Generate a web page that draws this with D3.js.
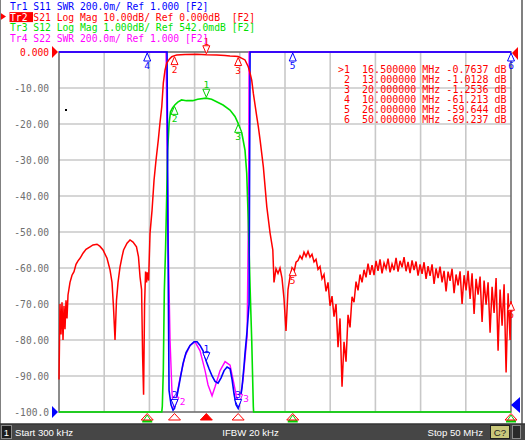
<!DOCTYPE html>
<html><head><meta charset="utf-8">
<script src="https://cdn.jsdelivr.net/npm/d3@7/dist/d3.min.js"></script>
<style>
html,body{margin:0;padding:0;background:#fff;}
svg{display:block;}
text{white-space:pre;}
</style></head><body>
<svg id="c" width="525" height="440"></svg>
<script>
// ---------- data ----------
const startMHz = 0.3, stopMHz = 50;
const yTicks = [0,-10,-20,-30,-40,-50,-60,-70,-80,-90,-100];
const yTickLabels = ["0.000","-10.00","-20.00","-30.00","-40.00","-50.00","-60.00","-70.00","-80.00","-90.00","-100.0"];
const headerLines = [
  {tr:"Tr1", rest:" S11 SWR 200.0m/ Ref 1.000 [F2]", color:"#0000ff"},
  {tr:"Tr2", rest:" S21 Log Mag 10.00dB/ Ref 0.000dB  [F2]", color:"#ff0000", active:true},
  {tr:"Tr3", rest:" S12 Log Mag 1.000dB/ Ref 542.0mdB [F2]", color:"#00e000"},
  {tr:"Tr4", rest:" S22 SWR 200.0m/ Ref 1.000 [F2]", color:"#ff00ff"}
];
const markerIds   = [1, 2, 3, 4, 5, 6];
const markerFreqs = [16.5, 13.0, 20.0, 10.0, 26.0, 50.0];
const markerVals  = [-0.7637, -1.0128, -1.2536, -61.213, -59.644, -69.237];
const footerStart = "Start 300 kHz", footerIfbw = "IFBW 20 kHz", footerStop = "Stop 50 MHz";

// Tr2 S21 log mag (MHz, dB)
const s21 = [
[0.30,-91.0],[0.41,-70.0],[0.52,-78.5],[0.63,-69.5],[0.74,-80.0],[0.85,-70.5],[0.96,-77.0],[1.07,-69.0],[1.18,-74.0],[1.29,-67.5],
[1.51,-64.0],[1.73,-62.0],[1.95,-61.0],[2.17,-59.0],[2.39,-58.0],[2.61,-57.3],[2.94,-55.9],[3.27,-54.8],[3.71,-54.1],[4.04,-53.6],
[4.48,-53.4],[4.81,-54.0],[5.14,-55.0],[5.58,-57.3],[5.91,-60.5],[6.13,-64.0],[6.29,-70.8],[6.46,-80.0],[6.62,-69.0],[6.79,-64.0],
[7.01,-59.7],[7.23,-56.9],[7.40,-55.0],[7.78,-53.1],[8.11,-52.2],[8.44,-52.8],[8.82,-54.1],[9.04,-56.9],[9.21,-62.5],[9.38,-66.0],
[9.49,-84.0],[9.60,-95.2],[9.71,-70.0],[9.82,-61.0],[9.93,-64.0],[10.00,-61.2],[10.15,-63.5],[10.31,-50.3],[10.53,-44.0],[10.75,-35.6],
[10.97,-30.0],[11.22,-24.4],[11.41,-19.5],[11.60,-15.2],[11.77,-8.6],[11.96,-5.0],[12.15,-3.1],[12.43,-2.0],[12.70,-1.3],[13.00,-1.01],
[13.24,-0.83],[14.16,-0.70],[15.44,-0.62],[16.50,-0.76],[17.64,-0.83],[18.55,-0.95],[19.10,-1.10],[19.65,-1.20],[20.00,-1.25],[20.20,-1.5],
[20.53,-1.9],[20.75,-2.2],[21.11,-4.1],[21.31,-5.9],[21.49,-7.8],[21.67,-11.5],[22.05,-18.0],[22.22,-20.8],[22.41,-24.4],[22.77,-31.9],
[23.15,-43.0],[23.51,-50.3],[23.81,-55.0],
[23.94,-64.0],[24.16,-60.2],[24.38,-61.5],[24.60,-60.0],[24.82,-62.8],[25.04,-68.5],[25.26,-77.5],[25.48,-66.0],[25.70,-62.5],[25.92,-60.0],
[26.14,-61.2],[26.36,-58.4],[26.58,-57.9],[26.80,-56.6],[27.02,-57.5],[27.24,-55.6],[27.46,-56.8],[27.68,-55.4],[27.90,-57.0],[28.12,-56.2],
[28.34,-58.3],[28.56,-57.6],[28.78,-60.4],[29.00,-59.6],[29.22,-63.0],[29.44,-61.8],[29.66,-66.5],[29.88,-64.0],[30.10,-70.5],[30.32,-67.8],
[30.54,-73.5],[30.76,-70.0],[30.98,-82.0],[31.20,-74.0],[31.42,-93.0],[31.64,-80.5],[31.86,-86.0],[32.08,-73.0],[32.30,-76.5],[32.52,-68.0],
[32.74,-69.5],[32.96,-63.8],[33.18,-66.2],[33.40,-61.8],[33.62,-64.0],[33.84,-60.5],[34.06,-62.6],[34.28,-58.8],[34.50,-61.9],[34.72,-59.2],
[34.94,-62.0],[35.16,-58.0],[35.38,-60.8],[35.60,-57.6],[35.82,-61.5],[36.04,-58.6],[36.26,-60.2],[36.48,-57.4],[36.70,-61.2],[36.92,-58.9],
[37.14,-60.6],[37.36,-57.2],[37.58,-61.0],[37.80,-58.0],[38.02,-59.8],[38.24,-57.0],[38.46,-60.9],[38.68,-58.3],[38.90,-61.4],[39.12,-57.9],
[39.34,-60.6],[39.56,-58.2],[39.78,-62.1],[40.00,-59.0],[40.22,-61.6],[40.44,-58.4],[40.66,-63.0],[40.88,-59.5],[41.10,-62.2],[41.32,-59.0],
[41.54,-64.4],[41.76,-60.1],[41.98,-62.8],[42.20,-59.6],[42.42,-64.0],[42.64,-60.8],[42.86,-66.5],[43.08,-61.0],[43.30,-63.6],[43.52,-60.2],
[43.74,-67.0],[43.96,-61.8],[44.18,-64.8],[44.40,-60.9],[44.62,-70.0],[44.84,-62.0],[45.06,-66.2],[45.28,-60.8],[45.50,-68.6],[45.72,-61.5],
[45.94,-72.8],[46.16,-63.0],[46.38,-67.4],[46.60,-62.4],[46.82,-75.0],[47.04,-63.5],[47.26,-70.2],[47.48,-64.0],[47.70,-78.0],[47.92,-65.2],
[48.14,-72.5],[48.36,-62.8],[48.58,-83.0],[48.80,-66.0],[49.02,-76.0],[49.24,-64.5],[49.46,-89.0],[49.68,-67.0],[49.90,-80.0],[50.00,-69.2]
];
// Tr1 S11 SWR
const s11 = [
[0.30,3.5],[11.96,3.5],[12.18,3.2],[12.29,1.9],[12.40,1.12],[12.62,1.04],[12.84,1.01],[13.00,1.02],[13.17,1.06],[13.39,1.12],
[13.61,1.18],[13.94,1.27],[14.27,1.33],[14.71,1.37],[15.15,1.39],[15.48,1.39],[15.81,1.37],[16.14,1.34],[16.50,1.28],[16.80,1.24],
[17.13,1.20],[17.46,1.17],[17.79,1.16],[18.12,1.19],[18.45,1.23],[18.78,1.25],[19.11,1.24],[19.33,1.18],[19.55,1.10],[19.77,1.04],
[20.00,1.02],[20.21,1.06],[20.43,1.14],[20.65,1.26],[20.76,1.33],[20.98,1.45],[21.20,1.60],[21.31,3.5],[50.00,3.5]
];
// Tr4 S22 SWR
const s22 = [
[0.30,3.5],[11.96,3.5],[12.07,3.2],[12.29,2.0],[12.51,1.4],[12.73,1.1],[12.95,1.02],[13.28,1.10],[13.61,1.19],[14.16,1.31],
[14.71,1.37],[15.26,1.39],[15.81,1.34],[16.36,1.23],[16.69,1.15],[17.13,1.09],[17.46,1.14],[18.01,1.23],[18.56,1.28],[19.11,1.26],
[19.44,1.18],[19.88,1.07],[20.10,1.03],[20.54,1.18],[20.98,1.42],[21.15,2.2],[21.20,3.5],[50.00,3.5]
];
// Tr3 S12 log mag
const s12 = [
[0.30,-60],[11.60,-60],[11.66,-9.3],[11.77,-8.3],[11.88,-6.1],[12.02,-4.9],[12.13,-3.6],[12.24,-2.2],[12.41,-1.43],[12.56,-1.12],
[12.78,-1.01],[13.03,-0.93],[13.36,-0.85],[13.77,-0.79],[14.31,-0.81],[15.00,-0.81],[15.55,-0.77],[16.46,-0.74],[17.08,-0.77],[17.63,-0.84],
[18.34,-0.93],[19.10,-1.07],[19.65,-1.25],[20.00,-1.44],[20.40,-1.71],[20.75,-2.18],[20.94,-2.82],[21.11,-4.12],[21.31,-5.99],[21.49,-7.46],
[21.67,-9.32],[21.70,-60],[50.00,-60]
];

// ---------- layout ----------
const L = 59, R = 511, T = 52, B = 412;
const svg = d3.select("#c");
const mono = "'DejaVu Sans Mono', monospace";

const x = d3.scaleLinear().domain([startMHz, stopMHz]).range([L, R]);
const yLog = d3.scaleLinear().domain([-100, 0]).range([B, T]).clamp(true);
const ySwr = d3.scaleLinear().domain([1, 3]).range([B, T]).clamp(true);
const yS12 = d3.scaleLinear().domain([-9.458, 0.542]).range([B, T]).clamp(true);

svg.append("rect").attr("width",525).attr("height",440).attr("fill","#fff");

// grid
const gridF = d3.range(0, 11).map(i => startMHz + i * (stopMHz - startMHz) / 10);
const grid = svg.append("g").attr("stroke","#c8c8c8").attr("stroke-width",1.6);
grid.selectAll("line.v").data(gridF.slice(1, 10)).join("line")
  .attr("x1", d => x(d)).attr("x2", d => x(d)).attr("y1", T).attr("y2", B);
grid.selectAll("line.h").data(yTicks.slice(1, 10)).join("line")
  .attr("y1", d => yLog(d)).attr("y2", d => yLog(d)).attr("x1", L).attr("x2", R);

// frame
svg.append("rect").attr("x", L).attr("y", T).attr("width", R - L).attr("height", B - T)
  .attr("fill","none").attr("stroke","#707070").attr("stroke-width",1.6);

// y axis labels
const yAxis = d3.axisLeft(yLog).tickValues(yTicks).tickFormat((d,i) => yTickLabels[i]).tickSize(0).tickPadding(10);
const ya = svg.append("g").attr("transform", `translate(${L},0)`).call(yAxis);
ya.select(".domain").remove();
ya.selectAll("text").attr("font-family", mono).attr("font-size", 9.6)
  .attr("fill", (d,i) => i === 0 ? "#ff0000" : "#6e6e6e");

svg.append("rect").attr("x",65).attr("y",109).attr("width",2).attr("height",2).attr("fill","#000");

// traces
function drawTrace(data, yScale, color, w) {
  svg.append("path").datum(data)
    .attr("d", d3.line().x(d => x(d[0])).y(d => yScale(d[1])))
    .attr("fill","none").attr("stroke", color).attr("stroke-width", w).attr("stroke-linejoin","miter");
}
drawTrace(s22, ySwr, "#ff00ff", 1.4);
drawTrace(s12, yS12, "#00e000", 1.6);
drawTrace(s11, ySwr, "#0000ff", 1.6);
drawTrace(s21, yLog, "#ff0000", 1.5);

// markers
function interp(data, f) {
  const i = d3.bisector(d => d[0]).left(data, f);
  if (i <= 0) return data[0][1];
  if (i >= data.length) return data[data.length-1][1];
  const a = data[i-1], b = data[i];
  return a[1] + (b[1]-a[1]) * (f - a[0]) / (b[0] - a[0]);
}
function sym(cx, cy, label, color, mode, filled, ldx) {
  const g = svg.append("g");
  const dx = ldx || 0;
  if (mode === "below") {
    g.append("path").attr("d", `M${cx},${cy+1}L${cx-3.5},${cy+9}L${cx+3.5},${cy+9}Z`)
      .attr("fill", filled ? color : "#fff").attr("stroke", color).attr("stroke-width",1);
    g.append("text").attr("x", cx + dx).attr("y", cy+17).attr("text-anchor","middle")
      .attr("font-family", mono).attr("font-size", 9.5).attr("fill", color).text(label);
  } else {
    g.append("path").attr("d", `M${cx},${cy-1}L${cx-3.5},${cy-9}L${cx+3.5},${cy-9}Z`)
      .attr("fill", filled ? color : "#fff").attr("stroke", color).attr("stroke-width",1);
    g.append("text").attr("x", cx + dx).attr("y", dx ? cy-1 : cy-10).attr("text-anchor","middle")
      .attr("font-family", mono).attr("font-size", 9.5).attr("fill", color).text(label);
  }
}
[0,1,2].forEach(i => {
  const f = markerFreqs[i];
  sym(x(f), yS12(interp(s12, f)), String(markerIds[i]), "#00d000", i === 0 ? "above" : "below");
});
[1,2].forEach(i => {
  const f = markerFreqs[i];
  sym(x(f)+1, ySwr(interp(s22, f)), String(markerIds[i]), "#ff00ff", "above", false, 7);
});
[0,1,2,3,4,5].forEach(i => {
  const f = markerFreqs[i];
  const v = ySwr(interp(s11, f));
  sym(x(f), v, String(markerIds[i]), "#0000ff", (v <= T + 1) ? "below" : "above");
});
[0,1,2,4,5].forEach(i => {
  const f = markerFreqs[i];
  sym(x(f), yLog(markerVals[i]), String(markerIds[i]), "#ff0000", i === 0 ? "above" : "below");
});

// bottom marker strip
markerFreqs.forEach((f, i) => {
  const cx = x(f);
  if (interp(s12, f) < -9.458) {
    svg.append("path").attr("d", `M${cx},${B+3}L${cx-4},${B+9}L${cx+4},${B+9}Z`)
      .attr("fill","none").attr("stroke","#00d000").attr("stroke-width",1);
    svg.append("line").attr("x1", cx-5).attr("x2", cx+5).attr("y1", B+9.5).attr("y2", B+9.5)
      .attr("stroke","#00d000").attr("stroke-width",2);
  }
  svg.append("path").attr("d", `M${cx},${B+1.5}L${cx-6},${B+8}L${cx+6},${B+8}Z`)
    .attr("fill", i === 0 ? "#ff0000" : "none").attr("stroke","#ff0000").attr("stroke-width",1);
});

// reference indicators
svg.append("path").attr("d", `M${L-1},${yLog(0)}L${L-7},${yLog(0)-6}L${L-7},${yLog(0)+6}Z`).attr("fill","#ff0000");
svg.append("path").attr("d", `M${L-1},${ySwr(1)}L${L-7},${ySwr(1)-6}L${L-7},${ySwr(1)+6}Z`).attr("fill","#0000ff");
svg.append("path").attr("d", `M${R+1},${yLog(0)+1}L${R+7},${yLog(0)-5}L${R+7},${yLog(0)+8}Z`).attr("fill","#ff0000");
svg.append("path").attr("d", `M${R},${ySwr(1)-7}L${R+9},${ySwr(1)-15}L${R+9},${ySwr(1)+1}Z`).attr("fill","#0000ff");

// header
headerLines.forEach((h, i) => {
  const by = 10 + i * 10.6;
  if (h.active) {
    svg.append("rect").attr("x", 9.5).attr("y", by - 8.5).attr("width", 23.5).attr("height", 10).attr("fill", "#ff0000");
    svg.append("path").attr("d", `M0,${by-8}L6,${by-4}L0,${by}Z`).attr("fill","#ff0000");
  }
  const t = svg.append("text").attr("x", 10).attr("y", by).attr("font-family", mono).attr("font-size", 9.7);
  t.append("tspan").attr("fill", h.active ? "#ffffff" : h.color).text(h.tr);
  t.append("tspan").attr("fill", h.color).text(h.rest);
});

// marker table
const fmtF = d3.format(".6f");
markerIds.forEach((id, i) => {
  const v = markerVals[i];
  const vs = Math.abs(v) < 10 ? v.toFixed(4) : v.toFixed(3);
  const idS = (i === 0 ? ">" : " ") + id;
  svg.append("text").attr("x", 338).attr("y", 73.3 + i * 10)
    .attr("font-family", mono).attr("font-size", 10).attr("fill", "#ff0000")
    .text(`${idS}  ${fmtF(markerFreqs[i])} MHz ${vs} dB`);
});

// outer borders
svg.append("line").attr("x1",0.5).attr("x2",0.5).attr("y1",0).attr("y2",424).attr("stroke","#808080").attr("stroke-width",1);
svg.append("line").attr("x1",522).attr("x2",522).attr("y1",0).attr("y2",424).attr("stroke","#808080").attr("stroke-width",2);

// footer
const fy = 423.5;
const sans = "'Liberation Sans', Arial, sans-serif";
svg.append("rect").attr("x",0).attr("y",fy).attr("width",525).attr("height",440-fy).attr("fill","#464646");
svg.append("line").attr("x1",0).attr("x2",525).attr("y1",fy+0.5).attr("y2",fy+0.5).attr("stroke","#2c2c2c");
svg.append("rect").attr("x",1.5).attr("y",425.5).attr("width",10).attr("height",13).attr("fill","#1c1c1c").attr("stroke","#8a8a8a");
svg.append("text").attr("x",6.5).attr("y",436).attr("text-anchor","middle").attr("fill","#fff")
  .attr("font-family",sans).attr("font-size",9.5).text("1");
svg.append("text").attr("x",15).attr("y",436).attr("fill","#fff").attr("font-family",sans).attr("font-size",9.6).text(footerStart);
svg.append("text").attr("x",250.5).attr("y",436).attr("text-anchor","middle").attr("fill","#fff").attr("font-family",sans).attr("font-size",9.6).text(footerIfbw);
svg.append("text").attr("x",483).attr("y",436).attr("text-anchor","end").attr("fill","#fff").attr("font-family",sans).attr("font-size",9.6).text(footerStop);
svg.append("rect").attr("x",490.5).attr("y",425.5).attr("width",19).attr("height",13).attr("fill","#c9c77a").attr("stroke","#1e1e1e");
svg.append("text").attr("x",500).attr("y",436).attr("text-anchor","middle").attr("fill","#1e1e1e").attr("font-family",sans).attr("font-size",9.6).text("C?");
svg.append("rect").attr("x",512.5).attr("y",425.5).attr("width",8).attr("height",13).attr("fill","#2a2a2a").attr("stroke","#8a8a8a");
</script>
</body></html>
